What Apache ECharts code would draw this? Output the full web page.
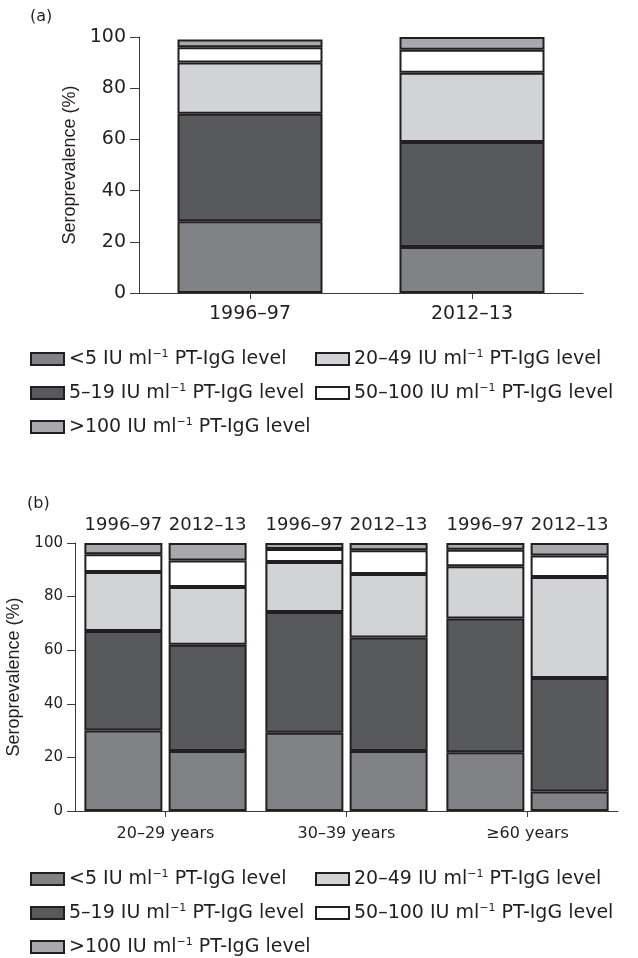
<!DOCTYPE html>
<html>
<head>
<meta charset="utf-8">
<script src="https://cdn.jsdelivr.net/npm/echarts@6/dist/echarts.min.js"></script>
<style>
html,body{margin:0;padding:0;background:#fff;}
#chart{width:638px;height:958px;}
</style>
</head>
<body>
<div id="chart"></div>
<script>
// ---- data ----
const levelPrefix = ['<5', '5–19', '20–49', '50–100', '>100'];
const levelNames = levelPrefix.map(p => p + ' IU ml-1 PT-IgG level');
const levelColors = ['#808285', '#58595b', '#d1d3d4', '#ffffff', '#a7a9ac'];

const periodsA = ['1996–97', '2012–13'];
const a_lt5 = [28, 18];
const a_5_19 = [42, 41];
const a_20_49 = [20, 27];
const a_50_100 = [6, 9];
const a_gt100 = [3, 5];

const ageGroups = ['20–29 years', '30–39 years', '≥60 years'];
const periodsB = ['1996–97', '2012–13'];
const b1996_lt5 = [30, 29.2, 21.9];
const b1996_5_19 = [37.2, 45.1, 49.9];
const b1996_20_49 = [22, 18.6, 19.5];
const b1996_50_100 = [6.6, 4.9, 6.2];
const b1996_gt100 = [4.2, 2.2, 2.5];
const b2012_lt5 = [22.4, 22.4, 7.3];
const b2012_5_19 = [39.6, 42.3, 42.3];
const b2012_20_49 = [21.6, 23.7, 37.7];
const b2012_50_100 = [9.9, 8.9, 8];
const b2012_gt100 = [6.5, 2.7, 4.7];

const yTicks = [0, 20, 40, 60, 80, 100];

// ---- styles ----
const FONT = 'DejaVu Sans';
const INK = '#231f20';
const AXIS = '#3a3a3a';

const seriesA = [a_lt5, a_5_19, a_20_49, a_50_100, a_gt100];
const series1996 = [b1996_lt5, b1996_5_19, b1996_20_49, b1996_50_100, b1996_gt100];
const series2012 = [b2012_lt5, b2012_5_19, b2012_20_49, b2012_50_100, b2012_gt100];

function barStyle(i) {
  return { color: levelColors[i], borderColor: INK, borderWidth: 2 };
}

const series = [];
seriesA.forEach((d, i) => {
  series.push({
    type: 'bar', name: levelNames[i], stack: 'a', xAxisIndex: 0, yAxisIndex: 0,
    data: d, barWidth: 145, itemStyle: barStyle(i), emphasis: { disabled: true }
  });
});
[series1996, series2012].forEach((grp, g) => {
  grp.forEach((d, i) => {
    const s = {
      type: 'bar', name: levelNames[i], stack: 'b' + g, xAxisIndex: 1, yAxisIndex: 1,
      data: d, barWidth: 78, barGap: '8%', itemStyle: barStyle(i), emphasis: { disabled: true }
    };
    if (i === grp.length - 1) {
      s.label = {
        show: true, position: 'top', distance: 9, formatter: periodsB[g],
        fontFamily: FONT, fontSize: 18, color: INK
      };
    }
    series.push(s);
  });
});

function yAxis(gridIndex, fontSize, margin, tickLen, nameGap) {
  return {
    type: 'value', gridIndex: gridIndex, min: 0, max: 100, interval: 20,
    name: 'Seroprevalence (%)', nameLocation: 'middle', nameGap: nameGap, nameRotate: 90,
    nameTextStyle: { fontFamily: 'Liberation Sans', fontSize: 18, color: INK },
    axisLine: { show: true, lineStyle: { color: AXIS, width: 1 } },
    axisTick: { show: true, length: tickLen, lineStyle: { color: AXIS, width: 1 } },
    axisLabel: { fontFamily: FONT, fontSize: fontSize, color: INK, margin: margin },
    splitLine: { show: false }
  };
}
function xAxis(gridIndex, data, fontSize, margin) {
  return {
    type: 'category', gridIndex: gridIndex, data: data,
    axisLine: { show: true, lineStyle: { color: AXIS, width: 1 } },
    axisTick: { show: true, alignWithLabel: true, length: 6, lineStyle: { color: AXIS, width: 1 } },
    axisLabel: { fontFamily: FONT, fontSize: fontSize, color: INK, margin: margin, interval: 0 },
    splitLine: { show: false }
  };
}

const legendText = {
  fontFamily: FONT, color: INK,
  rich: {
    t: { fontFamily: FONT, fontSize: 19, color: INK, lineHeight: 20 },
    s: { fontFamily: FONT, fontSize: 11, color: INK, lineHeight: 20, verticalAlign: 'top' }
  }
};
function legendFmt(name) {
  const p = name.split(' ')[0];
  return '{t|' + p + ' IU ml}{s|−1}{t| PT-IgG level}';
}
function legend(left, top, data) {
  return {
    left: left, top: top, orient: 'vertical', itemGap: 14, itemWidth: 33, itemHeight: 12,
    icon: 'rect', data: data, selectedMode: false, padding: 0,
    formatter: legendFmt, textStyle: legendText
  };
}

const option = {
  animation: false,
  backgroundColor: '#fff',
  textStyle: { fontFamily: FONT },
  grid: [
    { left: 139, right: 55, top: 37, bottom: 665, outerBoundsMode: 'none' },
    { left: 75, right: 20, top: 543, bottom: 147, outerBoundsMode: 'none' }
  ],
  xAxis: [xAxis(0, periodsA, 19, 12), xAxis(1, ageGroups, 16, 15)],
  yAxis: [yAxis(0, 19, 13, 9, 60), yAxis(1, 15, 12, 8, 51)],
  legend: [
    legend(30, 349, [levelNames[0], levelNames[1], levelNames[4]]),
    legend(315, 349, [levelNames[2], levelNames[3]]),
    legend(30, 869, [levelNames[0], levelNames[1], levelNames[4]]),
    legend(315, 869, [levelNames[2], levelNames[3]])
  ].map(l => Object.assign(l, { itemGap: 14.5 })),
  graphic: [
    { type: 'text', left: 30, top: 9, style: { text: '(a)', fontFamily: FONT, fontSize: 16, fill: INK } },
    { type: 'text', left: 27, top: 496, style: { text: '(b)', fontFamily: FONT, fontSize: 16, fill: INK } }
  ],
  series: series
};

const chart = echarts.init(document.getElementById('chart'), null, { renderer: 'canvas' });
chart.setOption(option);
</script>
</body>
</html>
